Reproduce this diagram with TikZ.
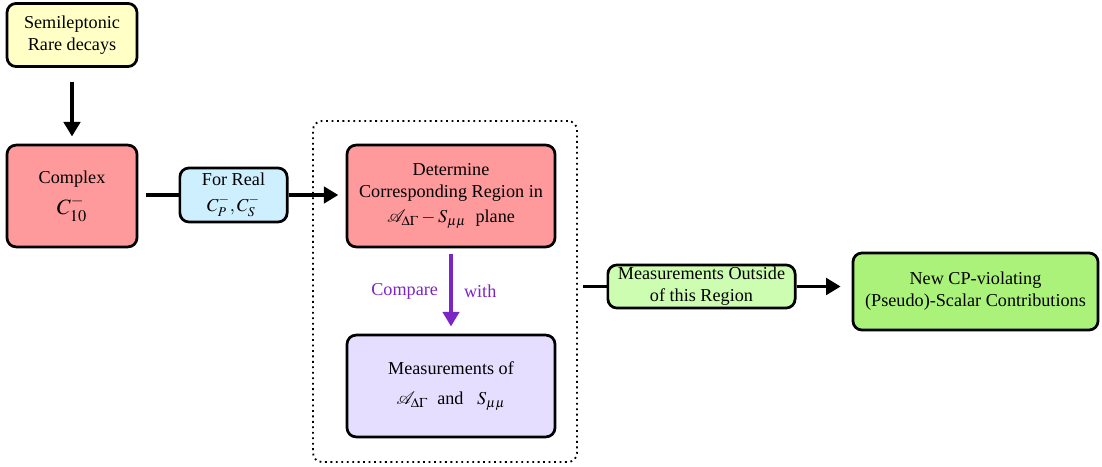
\documentclass[tikz,border=0pt]{standalone}
\usepackage{amsmath}
\usepackage{mathptmx}
\usepackage{mathrsfs}
\usepackage{fontspec}
\setmainfont{Liberation Serif}
\usepackage{tikz}
\usetikzlibrary{arrows.meta, positioning}

\definecolor{semiyellow}{HTML}{FFFFC6}
\definecolor{cplxred}{HTML}{FF9A9C}
\definecolor{realblue}{HTML}{CDEFFE}
\definecolor{measlav}{HTML}{E6DEFF}
\definecolor{outgreen}{HTML}{CDFDB0}
\definecolor{newgreen}{HTML}{AAF27A}
\definecolor{cmppurple}{HTML}{7B26C4}

\begin{document}
\begin{tikzpicture}[x=0.55pt, y=-0.55pt,
    box/.style={draw, line width=1.5pt, rounded corners=5pt, align=center, font=\fontsize{10}{12}\selectfont},
    conn/.style={line width=2.1pt},
    arr/.style={conn, -{Triangle[length=8pt, width=9pt]}}]
    \useasboundingbox (0,0) rectangle (1102,467);

    % boxes
    \node[box, fill=semiyellow, minimum width=71.5pt, minimum height=34.7pt] (semi) at (72,35) {Semileptonic\\Rare decays};
    \node[box, fill=cplxred, minimum width=71.5pt, minimum height=56pt] (cplx) at (72,196) {Complex\\[4pt] {\large $C_{10}^{-}$}};
    \node[box, fill=realblue, minimum width=59pt, minimum height=29.7pt, inner sep=1pt] (real) at (233.5,195) {For Real\\[2pt] $C_P^{-}, C_S^{-}$};
    \node[draw, dotted, line width=1pt, rounded corners=5pt, minimum width=145.2pt, minimum height=187.6pt] (region) at (445,291.5) {};
    \node[box, fill=cplxred, minimum width=114.4pt, minimum height=56pt] (det) at (451,196) {Determine\\Corresponding Region in\\[2pt] $\mathscr{A}_{\Delta\Gamma} - S_{\mu\mu}$\ \ plane};
    \node[box, fill=measlav, minimum width=114.4pt, minimum height=56pt] (meas) at (451,386) {Measurements of\\[5pt] $\mathscr{A}_{\Delta\Gamma}$\ \ and\ \ \ $S_{\mu\mu}$};
    \node[box, fill=outgreen, minimum width=103pt, minimum height=23.7pt, inner sep=1pt] (outside) at (701.5,286.5) {Measurements Outside\\of this Region};
    \node[box, fill=newgreen, minimum width=134.8pt, minimum height=42.4pt] (newcp) at (975.5,291.5) {New CP-violating\\(Pseudo)-Scalar Contributions};

    % connectors
    \draw[arr, shorten <=8pt, shorten >=4pt] (semi) -- (cplx);
    \draw[conn, shorten <=4pt] (cplx.east |- real.west) -- (real.west);
    \draw[arr, shorten >=4pt] (real.east) -- (det.west |- real.east);
    \draw[cmppurple, line width=1.7pt, -{Triangle[length=8pt, width=9pt]}, shorten <=3pt, shorten >=4pt] (det) -- (meas)
        node[midway, left=3pt, font=\fontsize{10}{12}\selectfont] {Compare}
        node[midway, right=3pt, font=\fontsize{10}{12}\selectfont] {with};
    \draw[conn, shorten <=3pt] (region.east |- outside.west) -- (outside.west);
    \draw[arr, shorten >=6pt] (outside.east) -- (newcp.west |- outside.east);
\end{tikzpicture}
\end{document}
